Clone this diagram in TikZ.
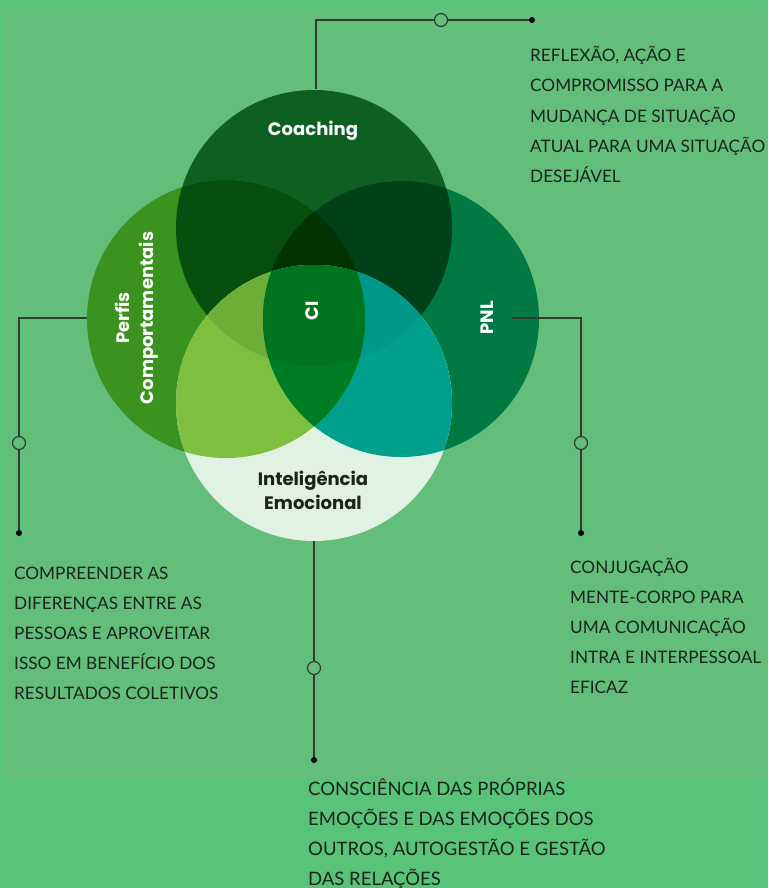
\documentclass[tikz,border=0pt]{standalone}
\usepackage{fontspec}
\setmainfont{Lato}
\newfontfamily\vennfont{Poppins}
\definecolor{bgout}{HTML}{5AC37A}
\definecolor{bgin}{HTML}{64BE7B}
\definecolor{coach}{HTML}{0E5F22}
\definecolor{perf}{HTML}{3A921F}
\definecolor{pnl}{HTML}{007A42}
\definecolor{emoc}{HTML}{E0F2E2}
\definecolor{cp}{HTML}{064F0E}
\definecolor{cn}{HTML}{004117}
\definecolor{cpn}{HTML}{003300}
\definecolor{pe}{HTML}{7DBF3E}
\definecolor{ne}{HTML}{00A08C}
\definecolor{cpe}{HTML}{6DAE38}
\definecolor{cne}{HTML}{009888}
\definecolor{pne}{HTML}{007D22}
\definecolor{cpne}{HTML}{00741F}
\definecolor{linec}{HTML}{333B35}
\definecolor{txt}{HTML}{1A241C}
\tikzset{
  link/.style={draw=linec, line width=1.2pt},
  ring/.style={circle, draw=linec, line width=1.2pt, fill=bgin, minimum size=13pt, inner sep=0pt},
  dot/.style={circle, fill=black, minimum size=6pt, inner sep=0pt},
  vennlabel/.style={font=\vennfont\bfseries\fontsize{18}{24}\selectfont, align=center, inner sep=0pt},
  desc/.style={font=\fontsize{17.2}{30}\selectfont, text=txt, align=left, anchor=base west, inner sep=0pt}
}
\begin{document}
\begin{tikzpicture}[x=1pt,y=-1pt]
\useasboundingbox (0,0) rectangle (768,888);
\fill[bgout] (0,0) rectangle (768,888);
\fill[bgin] (3,10) rectangle (768,779);
\def\circC{(314,228) circle (138pt)}
\def\circP{(226,319) circle (139pt)}
\def\circN{(401,319) circle (138pt)}
\def\circE{(314,403) circle (138pt)}
\fill[coach] \circC;
\fill[perf] \circP;
\fill[pnl] \circN;
\begin{scope}\clip \circC; \fill[cp] \circP; \end{scope}
\begin{scope}\clip \circC; \fill[cn] \circN; \end{scope}
\begin{scope}\clip \circC; \clip \circP; \fill[cpn] \circN; \end{scope}
\fill[emoc] \circE;
\begin{scope}\clip \circE; \fill[pe] \circP; \end{scope}
\begin{scope}\clip \circE; \fill[ne] \circN; \end{scope}
\begin{scope}\clip \circE; \clip \circC; \fill[cpe] \circP; \end{scope}
\begin{scope}\clip \circE; \clip \circC; \fill[cne] \circN; \end{scope}
\begin{scope}\clip \circE; \clip \circP; \fill[pne] \circN; \end{scope}
\begin{scope}\clip \circE; \clip \circP; \clip \circN; \fill[cpne] \circC; \end{scope}
\node[vennlabel, text=white] (coaching) at (313,131) {Coaching};
\node[vennlabel, text=white, rotate=90] (perfis) at (137,318) {Perfis\\Comportamentais};
\node[vennlabel, text=white, rotate=90] (ci) at (312,311) {CI};
\node[vennlabel, text=white, rotate=90] (pnlname) at (487,318) {PNL};
\node[vennlabel, text=txt] (emocional) at (313,490) {Inteligência\\Emocional};
\coordinate (coachtop) at (316,89);
\coordinate (coachbend) at (316,20);
\node[ring] (ringcoach) at (441,20){};
\node[dot] (dotcoach) at (532,20){};
\coordinate (perfleft) at (87,318);
\coordinate (perfbend) at (19,318);
\node[ring] (ringperf) at (19,443){};
\node[dot] (dotperf) at (19,533){};
\coordinate (pnlright) at (512,318);
\coordinate (pnlbend) at (581,318);
\node[ring] (ringpnl) at (581,443){};
\node[dot] (dotpnl) at (581,533){};
\coordinate (emocbottom) at (314,541);
\node[ring] (ringemoc) at (314,668){};
\node[dot] (dotemoc) at (314,760){};
\draw[link](coachtop) -- (coachbend) -- (ringcoach);
\draw[link](ringcoach) -- (dotcoach);
\draw[link](perfleft) -- (perfbend) -- (ringperf);
\draw[link](ringperf) -- (dotperf);
\draw[link](pnlright) -- (pnlbend) -- (ringpnl);
\draw[link](ringpnl) -- (dotpnl);
\draw[link](emocbottom) -- (ringemoc);
\draw[link](ringemoc) -- (dotemoc);
\node[desc] (coachdesc) at (530,182) {REFLEXÃO, AÇÃO E\\COMPROMISSO PARA A\\MUDANÇA DE SITUAÇÃO\\ATUAL PARA UMA SITUAÇÃO\\DESEJÁVEL};
\node[desc] (perfdesc) at (14,699) {COMPREENDER AS\\DIFERENÇAS ENTRE AS\\PESSOAS E APROVEITAR\\ISSO EM BENEFÍCIO DOS\\RESULTADOS COLETIVOS};
\node[desc] (pnldesc) at (570,693) {CONJUGAÇÃO\\MENTE-CORPO PARA\\UMA COMUNICAÇÃO\\INTRA E INTERPESSOAL\\EFICAZ};
\node[desc, font=\fontsize{18.5}{29.7}\selectfont] (emocdesc) at (308,885) {CONSCIÊNCIA DAS PRÓPRIAS\\EMOÇÕES E DAS EMOÇÕES DOS\\OUTROS, AUTOGESTÃO E GESTÃO\\DAS RELAÇÕES};
\end{tikzpicture}
\end{document}
